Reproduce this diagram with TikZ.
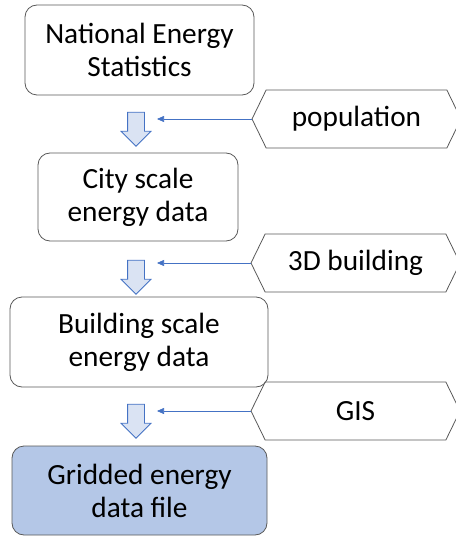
\documentclass[tikz,border=0pt]{standalone}
\usepackage{fontspec}
\setmainfont{Carlito}
\usetikzlibrary{shapes.symbols,shapes.arrows,arrows.meta}
\definecolor{edgegrey}{HTML}{595959}
\definecolor{flowblue}{HTML}{4472C4}
\definecolor{arrowfill}{HTML}{DAE3F3}
\definecolor{gridfill}{HTML}{B4C7E7}

\begin{document}
\begin{tikzpicture}[x=1pt,y=1pt,
  stage/.style={draw=edgegrey,line width=0.8pt,rounded corners=12pt,align=center,
    font=\fontsize{29.3}{33}\selectfont,inner sep=0pt},
  source/.style={draw=edgegrey,line width=0.8pt,signal,signal to=west and east,
    signal pointer angle=128,minimum height=58pt,minimum width=209pt,inner sep=0pt,
    font=\fontsize{29.3}{33}\selectfont},
  downarrow/.style={single arrow,draw=flowblue,fill=arrowfill,line width=0.8pt,
    shape border rotate=270,minimum height=34pt,inner xsep=8pt,inner ysep=0pt,
    single arrow head extend=6.5pt},
  feed/.style={draw=flowblue,line width=0.6pt,-{Triangle[length=7pt,width=6pt]}}]
\useasboundingbox (0,0) rectangle (455,-537);
% stages
\node [stage,minimum width=229pt,minimum height=90pt] (nat) at (139.5,-50) {National Energy\\Statistics};
\node [stage,minimum width=200pt,minimum height=88pt] (city) at (138,-197) {City scale\\energy data};
\node [stage,minimum width=258pt,minimum height=90pt] (bldg) at (139,-342) {Building scale\\energy data};
\node [stage,fill=gridfill,minimum width=255pt,minimum height=89pt] (grid) at (139.5,-490.5) {Gridded energy\\data file};
% block arrows
\node [downarrow] (a1) at (136,-125) {};
\node [downarrow] (a2) at (136,-273) {};
\node [downarrow] (a3) at (136,-417) {};
% inputs
\node [source] (pop) at (356.5,-119) {population};
\node [source] (bld3d) at (355.5,-263) {3D building};
\node [source] (gis) at (355.5,-411) {GIS};
\coordinate (e1) at (157,-119);
\coordinate (e2) at (157,-263);
\coordinate (e3) at (157,-411);
\draw [feed] (pop.west) -- (e1);
\draw [feed] (bld3d.west) -- (e2);
\draw [feed] (gis.west) -- (e3);
\end{tikzpicture}
\end{document}
